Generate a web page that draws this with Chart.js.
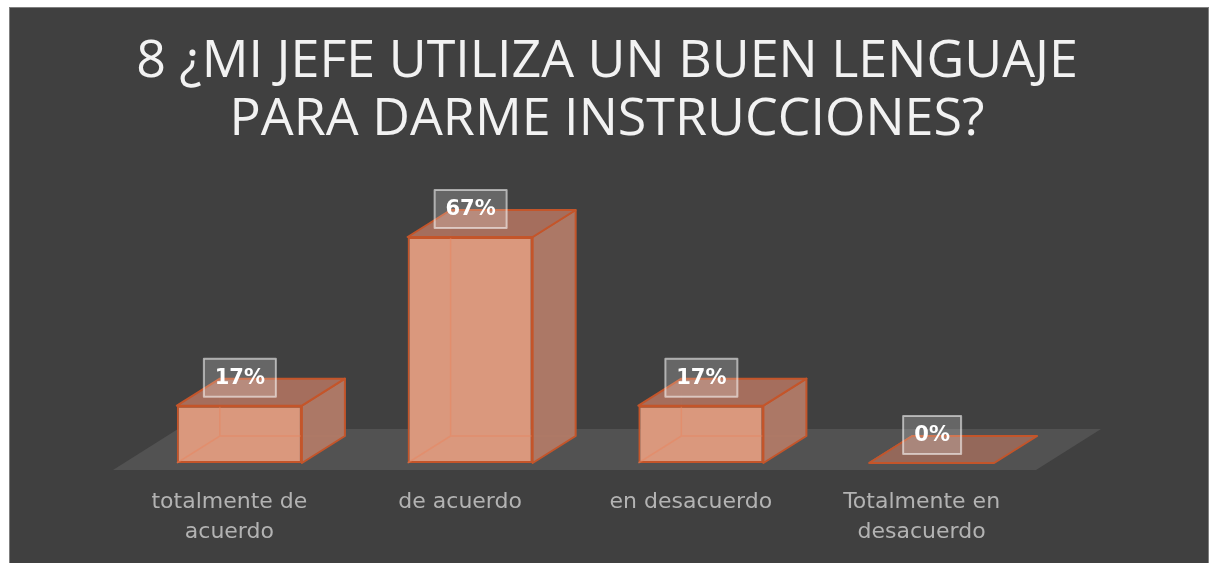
<!DOCTYPE html>
<html>
<head>
<meta charset="utf-8">
<title>8 ¿Mi jefe utiliza un buen lenguaje para darme instrucciones?</title>
<script src="https://cdn.jsdelivr.net/npm/chart.js@4/dist/chart.umd.min.js"></script>
<style>
  html, body { margin: 0; padding: 0; background: #ffffff; }
  canvas { display: block; }
</style>
</head>
<body>
<canvas id="chart" width="1210" height="563"></canvas>
<script>
// Chart data
const categories = [['totalmente de', 'acuerdo'], 'de acuerdo', 'en desacuerdo', ['Totalmente en', 'desacuerdo']];
const percentages = [17, 67, 17, 0];
const titleLines = ['8 ¿MI JEFE UTILIZA UN BUEN LENGUAJE', 'PARA DARME INSTRUCCIONES?'];

// 3D look
const depthX = 43, depthY = -27;
const edgeColor = '#c4552a';

// background + frame
const frame = {
  id: 'frame',
  beforeDraw(chart) {
    const ctx = chart.ctx;
    ctx.save();
    ctx.fillStyle = '#ffffff';
    ctx.fillRect(0, 0, chart.width, chart.height);
    ctx.fillStyle = '#404040';
    ctx.fillRect(9, 7, 1200, 570);
    ctx.strokeStyle = '#7f7f7f';
    ctx.lineWidth = 1;
    ctx.strokeRect(9.5, 7.5, 1199, 570);
    ctx.restore();
  }
};

// floor under the bars
const floor = {
  id: 'floor',
  beforeDatasetsDraw(chart) {
    const ctx = chart.ctx;
    const a = chart.chartArea;
    const y0 = chart.scales.y.getPixelForValue(0);
    ctx.save();
    ctx.fillStyle = '#525252';
    ctx.beginPath();
    ctx.moveTo(a.left - 11, y0 + 7);
    ctx.lineTo(a.right - 11, y0 + 7);
    ctx.lineTo(a.right + 54, y0 - 34);
    ctx.lineTo(a.left + 54, y0 - 34);
    ctx.closePath();
    ctx.fill();
    ctx.restore();
  }
};

// top and side faces + labels
const boxes3d = {
  id: 'boxes3d',
  afterDatasetsDraw(chart) {
    const ctx = chart.ctx;
    const meta = chart.getDatasetMeta(0);
    ctx.save();
    meta.data.forEach(function (bar, i) {
      const w = bar.width;
      const l = bar.x - w / 2, r = bar.x + w / 2;
      const t = bar.y, b = bar.base;

      // faint hidden edges
      ctx.strokeStyle = 'rgba(235,130,90,0.45)';
      ctx.lineWidth = 1.5;
      ctx.beginPath();
      ctx.moveTo(l, b);
      ctx.lineTo(l + depthX, b + depthY);
      ctx.lineTo(r + depthX, b + depthY);
      ctx.moveTo(l + depthX, b + depthY);
      ctx.lineTo(l + depthX, t + depthY);
      ctx.stroke();

      ctx.lineJoin = 'round';
      ctx.strokeStyle = edgeColor;
      ctx.lineWidth = 2;

      // right side
      if (b - t > 0.5) {
        ctx.fillStyle = 'rgba(176,122,103,0.97)';
        ctx.beginPath();
        ctx.moveTo(r, t);
        ctx.lineTo(r + depthX, t + depthY);
        ctx.lineTo(r + depthX, b + depthY);
        ctx.lineTo(r, b);
        ctx.closePath();
        ctx.fill();
        ctx.stroke();
      }

      // top
      ctx.fillStyle = b - t > 0.5 ? 'rgba(168,112,94,0.97)' : 'rgba(160,108,92,0.85)';
      ctx.beginPath();
      ctx.moveTo(l, t);
      ctx.lineTo(r, t);
      ctx.lineTo(r + depthX, t + depthY);
      ctx.lineTo(l + depthX, t + depthY);
      ctx.closePath();
      ctx.fill();
      ctx.stroke();

      // value label box
      const cx = bar.x + 0.5, cy = t - 28;
      const bw = percentages[i] < 10 ? 58 : 72, bh = 38;
      ctx.fillStyle = 'rgba(255,255,255,0.2)';
      ctx.fillRect(cx - bw / 2, cy - bh / 2, bw, bh);
      ctx.strokeStyle = 'rgba(255,255,255,0.55)';
      ctx.lineWidth = 2;
      ctx.strokeRect(cx - bw / 2, cy - bh / 2, bw, bh);
      ctx.fillStyle = '#ffffff';
      ctx.font = 'bold 21px "DejaVu Sans"';
      ctx.textAlign = 'center';
      ctx.textBaseline = 'middle';
      ctx.fillText(percentages[i] + '%', cx, cy + 1);
    });
    ctx.restore();
  }
};

const ctx = document.getElementById('chart').getContext('2d');
const chart = new Chart(ctx, {
  type: 'bar',
  data: {
    labels: categories,
    datasets: [{
      data: percentages,
      backgroundColor: '#da987d',
      borderColor: edgeColor,
      borderWidth: 2,
      borderSkipped: false,
      barPercentage: 0.542,
      categoryPercentage: 1
    }]
  },
  options: {
    responsive: false,
    animation: false,
    layout: { padding: { left: 104, right: 100, top: 0, bottom: 16 } },
    plugins: {
      legend: { display: false },
      tooltip: { enabled: false },
      title: {
        display: true,
        text: titleLines,
        color: '#f2f2f2',
        font: { family: 'Open Sans', size: 52, weight: 'normal', lineHeight: 1.1 },
        padding: { top: 34, bottom: 11 }
      }
    },
    scales: {
      x: {
        grid: { display: false, drawTicks: false },
        border: { display: false },
        afterFit(scale) { scale.height = 84; },
        ticks: {
          color: '#b3b3b3',
          font: { family: 'DejaVu Sans', size: 22, lineHeight: 1.36 },
          padding: 24,
          labelOffset: -10,
          maxRotation: 0,
          autoSkip: false
        }
      },
      y: {
        min: 0,
        max: 90,
        grid: { display: false, drawTicks: false },
        border: { display: false },
        ticks: { display: false },
        afterFit(scale) { scale.width = 20; }
      },
      y2: {
        position: 'right',
        min: 0,
        max: 90,
        grid: { display: false, drawTicks: false },
        border: { display: false },
        ticks: { display: false },
        afterFit(scale) { scale.width = 63; }
      }
    }
  },
  plugins: [frame, floor, boxes3d]
});
</script>
</body>
</html>
